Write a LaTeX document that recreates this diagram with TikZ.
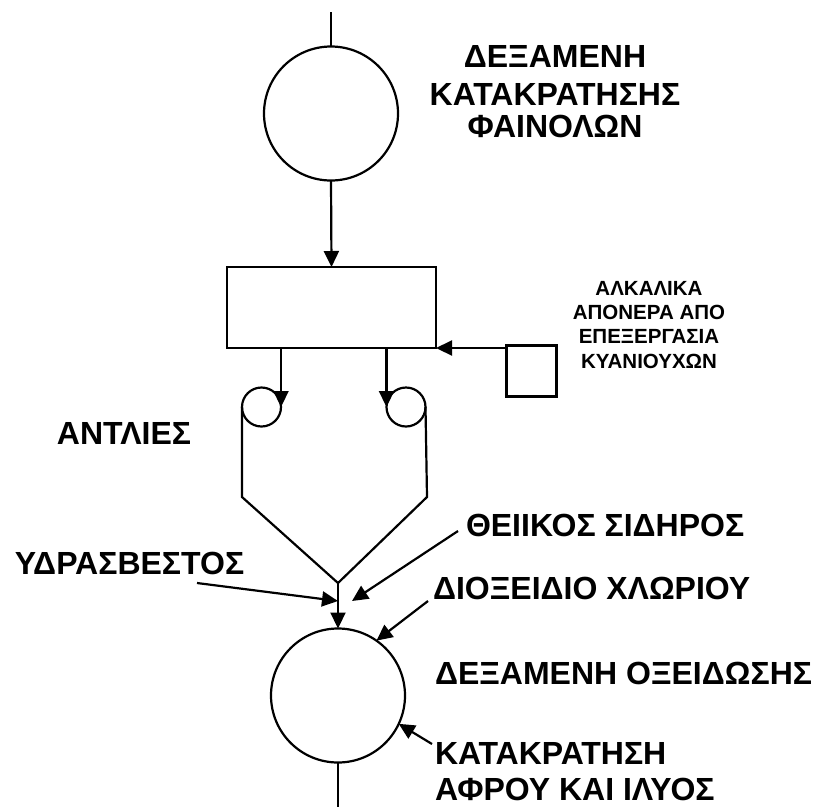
\documentclass[tikz,border=0pt]{standalone}
\usepackage{fontspec}
\setmainfont{Liberation Sans}
\usepackage{tikz}
\usetikzlibrary{positioning,calc,arrows.meta}

\begin{document}
\begin{tikzpicture}[x=1pt, y=-1pt, line width=2.2pt,
        every node/.style={inner sep=0pt, outer sep=0pt},
        tank/.style={draw, circle, minimum size=134pt},
        pump/.style={draw, circle, minimum size=39pt},
        flow/.style={-{Triangle[length=16pt, width=15pt]}},
        bigtext/.style={font=\bfseries\fontsize{32}{36}\selectfont},
        smalltext/.style={font=\bfseries\fontsize{20.5}{24.3}\selectfont, align=center}]
    \useasboundingbox (0,0) rectangle (816,807);

    % Tanks, mixing box and pumps
    \node[tank] (phenolTank) at (331,113.5) {};
    \node[draw, minimum width=209pt, minimum height=81pt] (mixer) at (331.5,307.5) {};
    \node[draw, minimum width=50pt, minimum height=51pt] (alkali) at (531.5,371) {};
    \node[pump] (pumpA) at (261.5,407) {};
    \node[pump] (pumpB) at (406,407) {};
    \node[tank] (oxTank) at (338,695.5) {};

    % Feed and drain
    \coordinate (feedIn) at (331,12);
    \coordinate (drainOut) at (338,807);
    \draw (feedIn) -- (phenolTank.north);
    \draw (oxTank.south) -- (drainOut);

    % Main flow
    \draw[flow] (phenolTank.south) -- (mixer.north);
    \draw[flow] (alkali.west |- mixer.south east) -- (mixer.south east);
    \draw[flow] (pumpA.east |- mixer.south) -- (pumpA.east);
    \draw[flow] (pumpB.west |- mixer.south) -- (pumpB.west);

    % Pump lines joining above the oxidation tank
    \coordinate (merge) at (338,583);
    \coordinate (bendA) at (242,497);
    \coordinate (bendB) at (427,497);
    \draw (pumpA.west) -- (bendA) -- (merge) -- (bendB) -- (pumpB.east);
    \draw[flow] (merge) -- (oxTank.north);

    % Chemical dosing
    \coordinate (limeTail) at (197,583);
    \coordinate (limeTip) at (338,601);
    \coordinate (ironTail) at (458,531);
    \coordinate (ironTip) at (352,601);
    \coordinate (chlorTail) at (428,601);
    \coordinate (foamTail) at (432,744);
    \draw[flow] (limeTail) -- (limeTip);
    \draw[flow] (ironTail) -- (ironTip);
    \draw[flow] (chlorTail) -- (oxTank.55);
    \draw[flow] (foamTail) -- (oxTank.-25);

    % Labels
    \node[bigtext, font=\bfseries\fontsize{32}{32}\selectfont, align=center, anchor=north] (phenolLabel)
        at (555,45) {ΔΕΞΑΜΕΝΗ\\[6pt]ΚΑΤΑΚΡΑΤΗΣΗΣ\\ΦΑΙΝΟΛΩΝ};
    \node[smalltext, anchor=north] (alkaliLabel) at (649,281) {ΑΛΚΑΛΙΚΑ\\ΑΠΟΝΕΡΑ ΑΠΟ\\ΕΠΕΞΕΡΓΑΣΙΑ\\ΚΥΑΝΙΟΥΧΩΝ};
    \node[bigtext, anchor=north] (pumpLabel) at (124,422) {ΑΝΤΛΙΕΣ};
    \node[bigtext, anchor=north] (limeLabel) at (129.5,552) {ΥΔΡΑΣΒΕΣΤΟΣ};
    \node[bigtext, anchor=north west] (ironLabel) at (466,514) {ΘΕΙΙΚΟΣ ΣΙΔΗΡΟΣ};
    \node[bigtext, anchor=north west] (chlorLabel) at (433,577) {ΔΙΟΞΕΙΔΙΟ ΧΛΩΡΙΟΥ};
    \node[bigtext, anchor=north west] (oxLabel) at (435,662) {ΔΕΞΑΜΕΝΗ ΟΞΕΙΔΩΣΗΣ};
    \node[bigtext, font=\bfseries\fontsize{32}{35.5}\selectfont, align=left, anchor=north west] (foamLabel)
        at (435,742.5) {ΚΑΤΑΚΡΑΤΗΣΗ\\ΑΦΡΟΥ ΚΑΙ ΙΛΥΟΣ};
\end{tikzpicture}
\end{document}
